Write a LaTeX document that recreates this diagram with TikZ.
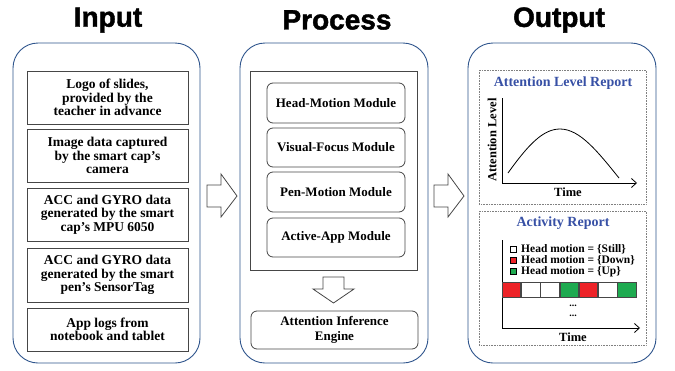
\documentclass[tikz,border=0pt]{standalone}
\usepackage{fontspec}
\setmainfont{Liberation Serif}
\newfontfamily\titlefont[BoldFeatures={FakeBold=1.5}]{Liberation Sans}
\usetikzlibrary{arrows.meta}
\definecolor{panelblue}{RGB}{46,84,140}
\definecolor{headblue}{RGB}{55,80,165}
\definecolor{cellred}{RGB}{237,35,40}
\definecolor{cellgreen}{RGB}{30,170,80}
\definecolor{boxgray}{RGB}{70,70,70}
\tikzset{
  paneltitle/.style={font=\titlefont\bfseries\fontsize{28}{28}\selectfont},
  panel/.style={draw=panelblue, line width=0.9pt, rounded corners=25pt},
  inbox/.style={draw=boxgray, line width=0.8pt, inner sep=0pt, align=center, minimum width=161pt,
    font=\bfseries\fontsize{13.5}{13.3}\selectfont},
  modbox/.style={draw=boxgray, line width=0.8pt, rounded corners=6pt, inner sep=0pt, align=center,
    minimum width=138pt, font=\bfseries\fontsize{13}{14}\selectfont},
  blockarrow/.style={draw=boxgray, line width=0.8pt, fill=white},
  dotbox/.style={draw=gray, line width=0.6pt, densely dotted},
  rtitle/.style={text=headblue, font=\bfseries\fontsize{14}{14}\selectfont},
  axislabel/.style={font=\bfseries\fontsize{12.5}{12.5}\selectfont},
  legtext/.style={font=\bfseries\fontsize{11.5}{11.5}\selectfont, anchor=west, inner sep=0pt,
    text height=7.5pt, text depth=1.5pt},
  legsq/.style={draw=black, line width=0.5pt, minimum size=6pt, inner sep=0pt},
  cell/.style={draw=boxgray, line width=0.8pt, minimum width=18.43pt, minimum height=15pt, inner sep=0pt, anchor=west},
  axisline/.style={line width=0.8pt, -{Straight Barb[length=5pt,width=9pt]}},
}
\begin{document}
\begin{tikzpicture}[x=1pt,y=-1pt]
\useasboundingbox (0,0) rectangle (675,370);

% titles
\node[paneltitle] (tin) at (108,20) {Input};
\node[paneltitle] (tproc) at (337,20) {Process};
\node[paneltitle] (tout) at (559,20) {Output};

% panels
\draw[panel] (13,43) rectangle (200,363);
\draw[panel] (240,43) rectangle (428,363);
\draw[panel] (468,43) rectangle (656,363);

% input boxes
\node[inbox, minimum height=53pt] (i1) at (107.5,97.5) {Logo of slides,\\provided by the\\teacher in advance};
\node[inbox, minimum height=53pt] (i2) at (107.5,155.5) {Image data captured\\by the smart cap's\\camera};
\node[inbox, minimum height=53pt] (i3) at (107.5,214.5) {ACC and GYRO data\\generated by the smart\\cap's MPU 6050};
\node[inbox, minimum height=54pt] (i4) at (107.5,275) {ACC and GYRO data\\generated by the smart\\pen's SensorTag};
\node[inbox, minimum height=43pt] (i5) at (107.5,329.5) {App logs from\\notebook and tablet};

% block arrows right
\draw[blockarrow] (207,185) -- (221,185) -- (221,174) -- (237,196) -- (221,217) -- (221,207) -- (207,207) -- cycle;
\draw[blockarrow] (434,185) -- (448,185) -- (448,174) -- (464,196) -- (448,217) -- (448,207) -- (434,207) -- cycle;

% process
\draw[draw=boxgray, line width=0.9pt] (250,71) rectangle (417,270);
\node[modbox, minimum height=40pt] (m1) at (336,103) {Head-Motion Module};
\node[modbox, minimum height=39pt] (m2) at (336,147.5) {Visual-Focus Module};
\node[modbox, minimum height=40pt] (m3) at (336,192) {Pen-Motion Module};
\node[modbox, minimum height=39pt] (m4) at (336,237.5) {Active-App Module};
\draw[blockarrow] (323,277) -- (344,277) -- (344,289) -- (354,289) -- (333.5,303) -- (313,289) -- (323,289) -- cycle;
\node[modbox, minimum width=167pt, minimum height=38pt, font=\bfseries\fontsize{13}{15}\selectfont] (eng) at (334.5,330) {Attention Inference\\Engine};

% output: attention level report
\draw[dotbox] (479,70) rectangle (646,204);
\node[rtitle] (r1) at (563,83) {Attention Level Report};
\coordinate (a1top) at (502,98);
\coordinate (a1o) at (502,183);
\coordinate (a1end) at (637,183);
\draw[axisline] (a1top) -- (a1o) -- (a1end);
\draw[line width=0.8pt] (508,173) .. controls (528,145) and (543,129) .. (560,129)
  .. controls (580,129) and (598,152) .. (619,178);
\node[axislabel, rotate=90] (ylab) at (492,140) {Attention Level};
\node[axislabel] (xlab1) at (568,192) {Time};

% output: activity report
\draw[dotbox] (479,211) rectangle (646,345);
\node[rtitle] (r2) at (563,223) {Activity Report};
\coordinate (a2top) at (502,240);
\coordinate (a2o) at (502,328);
\coordinate (a2end) at (640,328);
\draw[axisline] (a2top) -- (a2o) -- (a2end);
\node[legsq, fill=white] (s1) at (513,249.5) {};
\node[legsq, fill=cellred] (s2) at (513,260.5) {};
\node[legsq, fill=cellgreen] (s3) at (513,271.5) {};
\node[legtext] (l1) at (521,249.5) {Head motion = \{Still\}};
\node[legtext] (l2) at (521,260.5) {Head motion = \{Down\}};
\node[legtext] (l3) at (521,271.5) {Head motion = \{Up\}};
\node[cell, fill=cellred] (c1) at (502,289.5) {};
\node[cell, fill=white] (c2) at (c1.east) {};
\node[cell, fill=white] (c3) at (c2.east) {};
\node[cell, fill=cellgreen] (c4) at (c3.east) {};
\node[cell, fill=cellred] (c5) at (c4.east) {};
\node[cell, fill=white] (c6) at (c5.east) {};
\node[cell, fill=cellgreen] (c7) at (c6.east) {};
\node[font=\bfseries\fontsize{10}{10}\selectfont] (d1) at (573,306) {...};
\node[font=\bfseries\fontsize{10}{10}\selectfont] (d2) at (573,316) {...};
\node[axislabel] (xlab2) at (573,337) {Time};
\end{tikzpicture}
\end{document}
